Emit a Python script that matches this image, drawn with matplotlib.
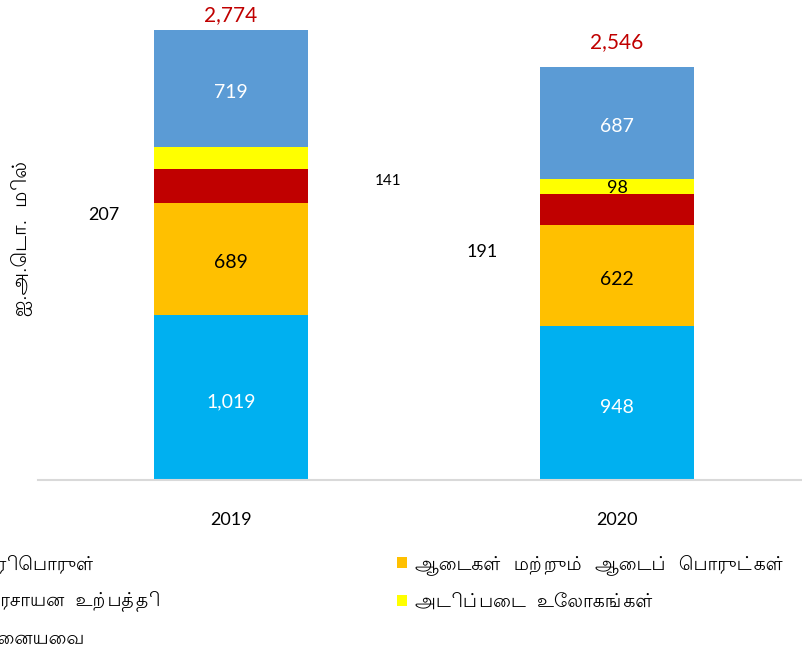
import matplotlib
matplotlib.use("Agg")
import matplotlib.pyplot as plt
from matplotlib.patches import Patch
import numpy as np

years = ["2019", "2020"]
totals = ["2,774", "2,546"]
series_names = ["எரிபொருள்", "ஆடைகள் மற்றும் ஆடைப் பொருட்கள்", "இரசாயன உற்பத்தி",
                "அடிப்படை உலோகங்கள்", "ஏனையவை"]
fuel = [1019, 948]
garments = [689, 622]
chemicals = [207, 191]
metals = [141, 98]
others = [719, 687]
colors = ["#00B0F0", "#FFC000", "#C00000", "#FFFF00", "#5B9BD5"]
ylabel = "ஐ.அ.டொ. மில்"

TAMIL = ["Lohit Tamil", "DejaVu Sans"]
NUM = ["Lato", "DejaVu Sans"]


def tamil_visual(s):
    """matplotlib has no complex-script shaping: put Tamil pre-base vowel signs
    in visual order so that the rendered text reads correctly."""
    pre = {"\u0BC6": ("\u0BC6", ""), "\u0BC7": ("\u0BC7", ""), "\u0BC8": ("\u0BC8", ""),
           "\u0BCA": ("\u0BC6", "\u0BBE"), "\u0BCB": ("\u0BC7", "\u0BBE"),
           "\u0BCC": ("\u0BC6", "\u0BD7")}
    out = []
    for ch in s:
        if ch in pre and out:
            p, post = pre[ch]
            base = out.pop()
            out.append(p)
            out.append(base)
            if post:
                out.append(post)
        else:
            out.append(ch)
    return "".join(out).replace(" ", "  ")


fig = plt.figure(figsize=(8.02, 6.56), dpi=100)
ax = fig.add_axes([38/802, 176/656, 772/802, 480/656])
x = np.arange(len(years))
w = 0.40
series = [fuel, garments, chemicals, metals, others]
bottom = np.zeros(len(years))
for vals, c in zip(series, colors):
    ax.bar(x, vals, w, bottom=bottom, color=c, edgecolor='none')
    bottom += np.array(vals)

DY = 25  # Excel-like label baseline shift


def lab(xi, y, s, color, size=14):
    ax.text(xi, y - DY, s, ha='center', va='center', color=color, fontsize=size, family=NUM)


tot_off = [92, 155]
for i in range(2):
    lab(i, fuel[i] / 2, f"{fuel[i]:,}", "white")
    lab(i, fuel[i] + garments[i] / 2, f"{garments[i]:,}", "black")
    top = fuel[i] + garments[i] + chemicals[i] + metals[i]
    lab(i, top + others[i] / 2, f"{others[i]:,}", "white")
    ax.text(i, top + others[i] + tot_off[i], totals[i], ha='center', va='center',
            color="#C00000", fontsize=15, family=NUM)
lab(1, fuel[1] + garments[1] + chemicals[1] + metals[1] / 2 + 15, f"{metals[1]}", "black", 13)
ax.text(-0.33, 1635, f"{chemicals[0]}", ha='center', va='center', fontsize=13, family=NUM)
ax.text(0.407, 1845, f"{metals[0]}", ha='center', va='center', fontsize=11, family=NUM)
ax.text(0.65, 1405, f"{chemicals[1]}", ha='center', va='center', fontsize=13, family=NUM)

ax.set_xlim(-0.5, 1.5)
ax.set_ylim(0, 2960)
ax.set_xticks(x)
ax.set_xticklabels(years, fontsize=13, family=NUM)
ax.tick_params(axis='x', length=0, pad=23)
ax.set_yticks([])
for s in ["top", "right", "left"]:
    ax.spines[s].set_visible(False)
ax.spines["bottom"].set_color("#D9D9D9")
ax.spines["bottom"].set_linewidth(1.5)

fig.text(22/802, 1 - 237/656, tamil_visual(ylabel), rotation=90, ha='center', va='center',
         fontsize=14.5, family=TAMIL)

handles = [Patch(facecolor=c, edgecolor='none') for c in colors]
names_v = [tamil_visual(n) for n in series_names]
common = dict(frameon=False, handlelength=0.52, handleheight=0.52, handletextpad=0.42,
              labelspacing=0.92, prop={'family': TAMIL, 'size': 13.5}, borderpad=0, borderaxespad=0)
legL = fig.legend([handles[0], handles[2], handles[4]], [names_v[0], names_v[2], names_v[4]],
                  loc='upper left', bbox_to_anchor=(-36/802, 1 - 554/656), **common)
legR = fig.legend([handles[1], handles[3]], [names_v[1], names_v[3]],
                  loc='upper left', bbox_to_anchor=(397/802, 1 - 554/656), **common)

fig.savefig("out.png")
